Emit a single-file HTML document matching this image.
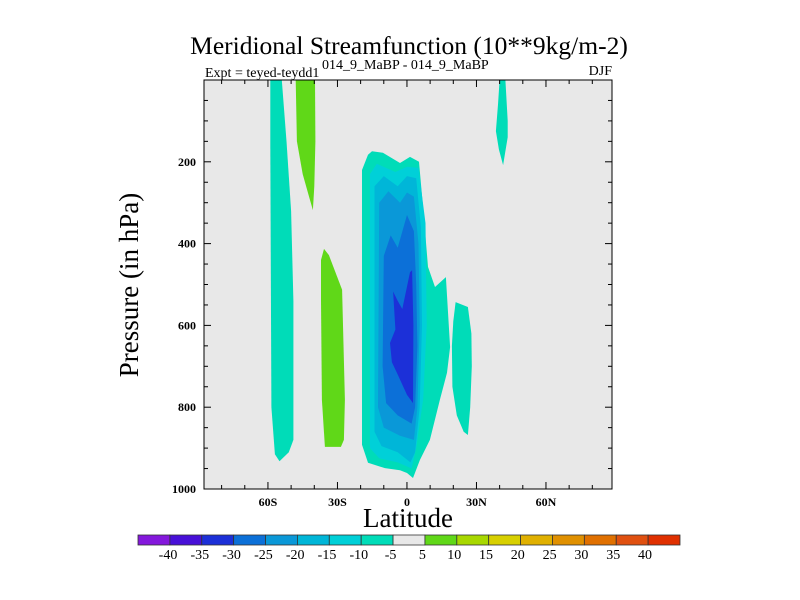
<!DOCTYPE html>
<html><head><meta charset="utf-8">
<style>
html,body{margin:0;padding:0;background:#fff;}
svg{display:block;font-family:"Liberation Serif",serif;}
</style></head>
<body>
<svg id="chart" width="800" height="600" viewBox="0 0 800 600" xmlns="http://www.w3.org/2000/svg">
<text x="409" y="54" font-size="25.5" text-anchor="middle">Meridional Streamfunction (10**9kg/m-2)</text>
<text x="205" y="77" font-size="14">Expt = teyed-teydd1</text>
<text x="322" y="69" font-size="14">014_9_MaBP - 014_9_MaBP</text>
<text x="612" y="75" font-size="14" text-anchor="end">DJF</text>
<rect x="204" y="80" width="408" height="409" fill="#e8e8e8"/>
<g id="contours"></g>
<rect x="204" y="80" width="408" height="409" fill="none" stroke="#000" stroke-width="1"/>
<g id="axes"></g>
<text transform="translate(138,285) rotate(-90)" font-size="27" text-anchor="middle">Pressure (in hPa)</text>
<text x="408" y="527" font-size="27" text-anchor="middle">Latitude</text>
<g id="colorbar"></g>
</svg>
<script>
const levelColors = ["#8418dc","#4810d8","#1c30d8","#0c70d8","#0a98d8","#00b6d8","#00d0d8","#00dcb8","#e8e8e8","#60d818","#a8d800","#d8d000","#e0b000","#e09000","#e07000","#e05010","#e03000"];
const levelLabels = ["-40","-35","-30","-25","-20","-15","-10","-5","5","10","15","20","25","30","35","40"];
const colorbarLabels = ["-40","-35","-30","-25","-20","-15","-10","-5","5","10","15","20","25","30","35","40"];
const xTickLats = [-60,-30,0,30,60];
const xTickLabels = ["60S","30S","0","30N","60N"];
const yTickValues = [200,400,600,800,1000];
// contour regions: band index into levelColors, points as [lat, hPa]
const regionBands = [7, 9, 9, 7, 6, 5, 4, 3, 2, 7, 7];
const regionNames = ["band-60s","band-40s-upper","band-30s","main-cell-m5","main-cell-m10","main-cell-m15","main-cell-m20","main-cell-m25","main-cell-m30","band-40n-upper","band-20n"];
const regionPoints = [
 [[-59,0],[-54,0],[-52,150],[-50,320],[-49,540],[-49,880],[-51,910],[-55,932],[-57,915],[-58.5,800],[-58.8,400],[-59,150]],
 [[-48,0],[-39.7,0],[-39.5,150],[-40,260],[-40.6,318],[-42,290],[-45,230],[-47.5,150]],
 [[-35.8,413],[-33.7,428],[-28,513],[-26.8,782],[-27.2,880],[-28.5,897],[-35.4,897],[-36.7,782],[-37.1,538],[-37.1,440]],
 [[-19.4,220],[-16.8,183],[-15.1,174],[-10.4,178],[-3,203],[1.3,188],[5.2,200],[7.3,335],[9.1,457],[12.1,506],[16.8,482],[18.6,653],[17.3,716],[14.2,782],[9.9,880],[5.6,929],[2.6,973],[0,961],[-3,954],[-9.5,949],[-16.8,936],[-19.4,892]],
 [[-16,230],[-13,205],[-5,225],[0,212],[5,215],[8,350],[8.5,600],[7,780],[4,900],[2,950],[-4,935],[-12,925],[-16,900]],
 [[-14,260],[-10,235],[-4,260],[0,235],[4,240],[6,360],[6.5,600],[5.5,800],[3.5,910],[1.5,935],[-4,910],[-11,895],[-14,860]],
 [[-12,300],[-8,272],[-3,300],[0,275],[3,285],[5,400],[5.5,600],[4.5,800],[3,880],[-3,870],[-10,850],[-12.5,800]],
 [[-10,430],[-7,380],[-4,410],[0,330],[3,370],[4,500],[4.5,650],[3.5,800],[2,840],[-4,820],[-9,790],[-10.5,700]],
 [[-6,517],[-4,540],[-2,560],[1.3,470],[2.2,465],[2.8,600],[2.6,790],[0,770],[-4,720],[-6.5,690],[-7.3,643],[-5,610]],
 [[40,0],[42.5,0],[43.5,100],[43.5,140],[41.5,208],[39.7,170],[38.4,125],[39.3,60]],
 [[21,543],[26.3,555],[27.8,620],[28,700],[27.3,800],[26.3,868],[24.5,860],[21.5,820],[19.6,750],[19.4,650],[20,590]]
];

const NS = "http://www.w3.org/2000/svg";
const X0 = 204, X1 = 612, Y0 = 80, Y1 = 489;
const latMin = -87.6, latMax = 88.5;
function xScale(lat){ return X0 + (lat - latMin) / (latMax - latMin) * (X1 - X0); }
function yScale(p){ return Y0 + p / 1000 * (Y1 - Y0); }
function mk(tag, attrs){ const e = document.createElementNS(NS, tag); for (const k in attrs) e.setAttribute(k, attrs[k]); return e; }

const cg = document.getElementById("contours");
regionPoints.forEach((pts, i) => {
  const poly = mk("polygon", {points: pts.map(p => xScale(p[0]).toFixed(1) + "," + yScale(p[1]).toFixed(1)).join(" "), fill: levelColors[regionBands[i]]});
  
  
  cg.appendChild(poly);
});

const ag = document.getElementById("axes");
for (let lat = -80; lat <= 80; lat += 10) {
  const major = lat % 30 === 0;
  const len = major ? 7 : 4;
  const x = xScale(lat);
  const t1 = mk("line", {x1: x, x2: x, y1: Y1, y2: Y1 - len, stroke: "#000", "stroke-width": 1});
  
  
  ag.appendChild(t1);
  const t2 = mk("line", {x1: x, x2: x, y1: Y0, y2: Y0 + len, stroke: "#000", "stroke-width": 1});
  
  
  ag.appendChild(t2);
}
xTickLats.forEach((lat, i) => {
  const t = mk("text", {x: xScale(lat), y: 506, "font-size": 12, "font-weight": "bold", "text-anchor": "middle"});
  t.textContent = xTickLabels[i];
  
  
  ag.appendChild(t);
});
for (let p = 50; p < 1000; p += 50) {
  const major = p % 200 === 0;
  const len = major ? 7 : 4;
  const y = yScale(p);
  const t1 = mk("line", {x1: X0, x2: X0 + len, y1: y, y2: y, stroke: "#000", "stroke-width": 1});
  
  
  ag.appendChild(t1);
  const t2 = mk("line", {x1: X1, x2: X1 - len, y1: y, y2: y, stroke: "#000", "stroke-width": 1});
  
  
  ag.appendChild(t2);
}
yTickValues.forEach(v => {
  const t = mk("text", {x: 196, y: yScale(v) + 4, "font-size": 12, "font-weight": "bold", "text-anchor": "end"});
  t.textContent = String(v);
  
  
  ag.appendChild(t);
});

const cb = document.getElementById("colorbar");
const cbX0 = 138, cbX1 = 680, cbY = 535, cbH = 10;
const bw = (cbX1 - cbX0) / levelColors.length;
levelColors.forEach((c, i) => {
  const r = mk("rect", {x: cbX0 + i * bw, y: cbY, width: bw, height: cbH, fill: c, stroke: "#333", "stroke-width": 0.8});
  
  
  cb.appendChild(r);
});
const lblStep = (645 - 168) / (colorbarLabels.length - 1);
colorbarLabels.forEach((l, i) => {
  const t = mk("text", {x: 168 + i * lblStep, y: 559, "font-size": 14, "text-anchor": "middle"});
  t.textContent = l;
  
  
  cb.appendChild(t);
});
</script>
</body></html>
